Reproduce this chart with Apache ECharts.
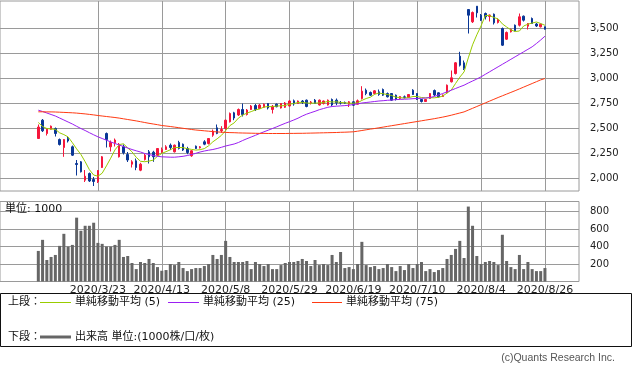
<!DOCTYPE html>
<html><head><meta charset="utf-8">
<script src="https://cdn.jsdelivr.net/npm/echarts@6/dist/echarts.min.js"></script>
<style>html,body{margin:0;padding:0;background:#fff;}#c{width:633px;height:374px;}</style>
</head><body><div id="c"></div>
<script>
const dates = [
'2020/3/2','2020/3/3','2020/3/4','2020/3/5','2020/3/6','2020/3/9','2020/3/10','2020/3/11','2020/3/12','2020/3/13','2020/3/16','2020/3/17','2020/3/18','2020/3/19','2020/3/23','2020/3/24','2020/3/25','2020/3/26','2020/3/27','2020/3/30','2020/3/31',
'2020/4/1','2020/4/2','2020/4/3','2020/4/6','2020/4/7','2020/4/8','2020/4/9','2020/4/10','2020/4/13','2020/4/14','2020/4/15','2020/4/16','2020/4/17','2020/4/20','2020/4/21','2020/4/22','2020/4/23','2020/4/24','2020/4/27','2020/4/28','2020/4/30',
'2020/5/1','2020/5/7','2020/5/8','2020/5/11','2020/5/12','2020/5/13','2020/5/14','2020/5/15','2020/5/18','2020/5/19','2020/5/20','2020/5/21','2020/5/22','2020/5/25','2020/5/26','2020/5/27','2020/5/28','2020/5/29',
'2020/6/1','2020/6/2','2020/6/3','2020/6/4','2020/6/5','2020/6/8','2020/6/9','2020/6/10','2020/6/11','2020/6/12','2020/6/15','2020/6/16','2020/6/17','2020/6/18','2020/6/19','2020/6/22','2020/6/23','2020/6/24','2020/6/25','2020/6/26','2020/6/29','2020/6/30',
'2020/7/1','2020/7/2','2020/7/3','2020/7/6','2020/7/7','2020/7/8','2020/7/9','2020/7/10','2020/7/13','2020/7/14','2020/7/15','2020/7/16','2020/7/17','2020/7/20','2020/7/21','2020/7/22','2020/7/27','2020/7/28','2020/7/29','2020/7/30','2020/7/31',
'2020/8/3','2020/8/4','2020/8/5','2020/8/6','2020/8/7','2020/8/11','2020/8/12','2020/8/13','2020/8/14','2020/8/17','2020/8/18','2020/8/19','2020/8/20','2020/8/21','2020/8/24','2020/8/25','2020/8/26'
];
const opens = [
2400,2583,2450,2493,2500,2390,2310,2400,2317,2150,
2167,1983,2050,1990,1967,2110,2450,2317,2357,2217,
2317,2240,2143,2177,2083,2190,2267,2263,2233,2263,
2290,2333,2267,2360,2343,2300,2227,2323,2307,2367,
2350,2433,2507,2477,2500,2567,2657,2635,2690,2640,
2690,2730,2700,2712,2750,2690,2743,2705,2712,2725,
2777,2750,2775,2783,2757,2783,2735,2750,2735,2790,
2783,2760,2760,2743,2767,2743,2800,2883,2860,2850,
2867,2890,2850,2850,2833,2800,2817,2810,2883,2850,
2790,2770,2800,2880,2857,2820,2857,2967,3050,3223,
3157,3690,3567,3723,3633,3650,3620,3643,3560,3500,
3393,3467,3533,3533,3623,3523,3600,3545,3517,3517];
const closes = [
2515,2477,2493,2523,2450,2340,2390,2375,2233,2140,
2067,2023,1975,1970,2080,2217,2390,2360,2385,2343,
2257,2185,2167,2110,2143,2233,2217,2217,2300,2290,
2317,2310,2333,2300,2285,2260,2277,2300,2317,2343,
2400,2473,2450,2490,2583,2650,2605,2690,2640,2685,
2725,2690,2735,2742,2705,2722,2718,2750,2755,2775,
2745,2775,2760,2720,2765,2750,2783,2775,2783,2735,
2757,2755,2753,2767,2733,2777,2873,2850,2833,2877,
2840,2833,2817,2783,2790,2820,2810,2840,2840,2790,
2770,2790,2850,2835,2817,2835,2933,3007,3157,3133,
3100,3633,3660,3657,3583,3617,3635,3557,3590,3333,
3460,3490,3477,3617,3583,3550,3550,3525,3543,3493];
const lows = [
2395,2465,2430,2490,2420,2330,2217,2360,2225,2030,
2060,1965,1965,1925,1955,2105,2310,2270,2320,2210,
2240,2165,2110,2083,2073,2180,2150,2167,2225,2250,
2285,2285,2260,2290,2275,2243,2217,2295,2300,2333,
2340,2417,2443,2457,2490,2560,2583,2625,2620,2630,
2685,2675,2695,2705,2690,2650,2712,2700,2705,2720,
2728,2745,2745,2712,2740,2745,2730,2740,2730,2725,
2733,2740,2745,2715,2725,2740,2790,2833,2825,2840,
2827,2825,2810,2775,2780,2795,2800,2805,2835,2785,
2760,2765,2795,2825,2810,2815,2850,2960,3040,3120,
3085,3450,3555,3610,3575,3590,3570,3540,3550,3325,
3385,3460,3470,3520,3570,3490,3545,3515,3510,3490];
const highs = [
2540,2595,2500,2530,2510,2400,2395,2415,2330,2185,
2175,2085,2060,2015,2085,2225,2460,2380,2400,2355,
2340,2265,2183,2200,2157,2245,2285,2277,2305,2310,
2333,2350,2340,2377,2350,2317,2283,2330,2325,2383,
2405,2490,2540,2523,2590,2660,2667,2700,2750,2695,
2735,2745,2745,2750,2755,2735,2750,2755,2765,2785,
2790,2780,2785,2790,2775,2795,2790,2780,2790,2800,
2800,2775,2770,2775,2775,2790,2923,2900,2870,2885,
2890,2900,2860,2855,2840,2825,2830,2845,2893,2855,
2795,2795,2855,2890,2862,2840,2940,3080,3165,3267,
3180,3690,3670,3723,3645,3660,3640,3650,3600,3510,
3470,3500,3540,3650,3630,3555,3610,3555,3550,3520];
const volumes = [
350,477,246,281,304,408,546,400,419,731,
581,638,638,673,442,431,400,400,419,477,
281,292,212,142,223,212,258,212,165,123,
131,200,188,223,154,119,142,154,154,177,
200,304,258,304,465,281,223,223,223,235,
142,223,200,177,200,142,142,188,212,223,
223,235,258,235,177,246,188,200,188,304,
223,338,154,165,142,200,454,188,165,177,
142,154,200,165,119,177,131,200,154,200,
223,119,142,108,131,154,258,304,373,465,
269,858,638,292,200,223,235,223,188,535,
235,165,142,304,142,223,142,119,119,154];
const ma5 = [
2560,2520,2500,2495,
2492,2457,2439,2416,2358,2296,2241,2168,2088,2035,
2023,2053,2126,2203,2286,2339,2347,2306,2267,2212,
2172,2168,2174,2184,2222,2251,2268,2287,2310,2310,
2309,2298,2291,2284,2288,2299,2327,2367,2397,2431,
2479,2529,2556,2604,2634,2654,2669,2686,2695,2715,
2719,2719,2724,2727,2730,2744,2749,2760,2762,2755,
2753,2754,2756,2759,2771,2765,2767,2761,2757,2753,
2753,2757,2781,2800,2813,2842,2855,2847,2840,2830,
2813,2809,2804,2809,2820,2820,2810,2806,2808,2807,
2812,2825,2854,2885,2950,3013,3066,3206,3337,3437,
3527,3630,3630,3610,3596,3546,3515,3486,3470,3475,
3525,3543,3555,3565,3550,3532];
const ma25 = [
2683,2670,2655,2640,2625,2605,2585,2565,2545,2522,
2500,2480,2458,2437,2417,2400,2383,2366,2350,2335,
2320,2305,2290,2277,2265,2250,2240,2230,2222,2217,
2215,2213,2213,2217,2222,2230,2240,2252,2265,2275,
2283,2290,2300,2312,2325,2335,2345,2360,2380,2398,
2415,2432,2450,2467,2483,2500,2517,2535,2552,2568,
2585,2603,2625,2643,2658,2672,2688,2700,2712,2720,
2723,2726,2729,2733,2740,2747,2755,2760,2765,2770,
2775,2778,2782,2785,2789,2791,2793,2795,2798,2800,
2802,2805,2810,2820,2835,2850,2867,2883,2900,2917,
2933,2955,2975,2995,3017,3042,3067,3092,3117,3142,
3167,3192,3217,3242,3267,3292,3317,3350,3385,3423];
const ma75 = [
2667,2667,2666,2666,2665,2663,2661,2659,2657,2654,
2650,2646,2641,2636,2630,2625,2620,2615,2610,2604,
2597,2590,2583,2576,2568,2560,2552,2545,2538,2530,
2525,2520,2514,2508,2502,2496,2490,2485,2481,2477,
2473,2469,2466,2463,2461,2459,2458,2456,2455,2454,
2453,2452,2451,2451,2450,2450,2450,2450,2450,2451,
2451,2452,2452,2453,2454,2455,2456,2457,2458,2459,
2460,2462,2463,2465,2467,2473,2480,2487,2494,2500,
2507,2514,2521,2528,2535,2542,2549,2556,2563,2570,
2577,2584,2591,2598,2606,2614,2623,2633,2644,2655,
2666,2684,2702,2720,2738,2756,2774,2792,2810,2827,
2844,2861,2878,2896,2914,2932,2950,2968,2986,3000];
const tickLabels = ['2020/3/23','2020/4/13','2020/5/8','2020/5/29','2020/6/19','2020/7/10','2020/8/4','2020/8/26'];
const priceTicks = [2000,2250,2500,2750,3000,3250,3500];
const volumeTicks = [200,400,600,800];

const PAD_L = 9, PAD_R = 8;
const RED = '#f5163b', BLUE = '#0a3796';
const cats = [];
for (let i = 0; i < PAD_L; i++) cats.push('L' + i);
dates.forEach(d => cats.push(d));
for (let i = 0; i < PAD_R; i++) cats.push('R' + i);
const pad = (arr, blank) => {
  const out = [];
  for (let i = 0; i < PAD_L; i++) out.push(blank);
  arr.forEach(v => out.push(v));
  for (let i = 0; i < PAD_R; i++) out.push(blank);
  return out;
};
const candle = pad(dates.map((d, i) => [opens[i], closes[i], lows[i], highs[i]]), ['-','-','-','-']);
const tickSet = new Set(tickLabels);
const showTick = (idx, val) => tickSet.has(val);
const comma = v => String(v).replace(/\B(?=(\d{3})+(?!\d))/g, ',');
const FONT = '"DejaVu Sans","Noto Sans CJK JP",sans-serif';
const GRID_C = '#9a9a9a';

const chart = echarts.init(document.getElementById('c'), null, {renderer: 'canvas'});
const catAxis = (gi, labels) => ({
  type: 'category', gridIndex: gi, data: cats, boundaryGap: false,
  axisLine: {show: false}, axisTick: {show: false},
  axisLabel: labels ? {show: true, interval: showTick, margin: 3, fontSize: 11, color: '#222', fontFamily: FONT, hideOverlap: false} : {show: false},
  splitLine: {show: true, interval: showTick, lineStyle: {color: GRID_C, width: 1}}
});
chart.setOption({
  animation: false,
  backgroundColor: '#fff',
  grid: [
    {left: 0, top: 1, width: 579, height: 190, show: true, borderColor: GRID_C, borderWidth: 1, outerBoundsMode: 'none'},
    {left: 0, top: 201.5, width: 579, height: 80, show: true, borderColor: GRID_C, borderWidth: 1, outerBoundsMode: 'none'}
  ],
  xAxis: [catAxis(0, false), catAxis(1, true)],
  yAxis: [
    {type: 'value', gridIndex: 0, position: 'right', min: 1875, max: 3775,
     axisLine: {show: false}, axisTick: {show: false, customValues: priceTicks},
     axisLabel: {customValues: priceTicks, formatter: comma, margin: 11, fontSize: 10, color: '#222', fontFamily: FONT},
     splitLine: {show: true, lineStyle: {color: GRID_C, width: 1}}},
    {type: 'value', gridIndex: 1, position: 'right', min: 0, max: 916,
     axisLine: {show: false}, axisTick: {show: false, customValues: volumeTicks},
     axisLabel: {customValues: volumeTicks, margin: 11, fontSize: 10, color: '#222', fontFamily: FONT},
     splitLine: {show: true, lineStyle: {color: GRID_C, width: 1}}}
  ],
  series: [
    {type: 'candlestick', xAxisIndex: 0, yAxisIndex: 0, data: candle, barWidth: 2,
     itemStyle: {color: RED, color0: BLUE, borderColor: RED, borderColor0: BLUE, borderWidth: 1}, z: 2},
    {type: 'line', name: 'MA5', xAxisIndex: 0, yAxisIndex: 0, data: pad(ma5, '-'), showSymbol: false,
     lineStyle: {color: '#99cc00', width: 1}, itemStyle: {color: '#99cc00'}, z: 3},
    {type: 'line', name: 'MA25', xAxisIndex: 0, yAxisIndex: 0, data: pad(ma25, '-'), showSymbol: false,
     lineStyle: {color: '#9b1ff2', width: 1}, itemStyle: {color: '#9b1ff2'}, z: 3},
    {type: 'line', name: 'MA75', xAxisIndex: 0, yAxisIndex: 0, data: pad(ma75, '-'), showSymbol: false,
     lineStyle: {color: '#ff3a12', width: 1}, itemStyle: {color: '#ff3a12'}, z: 3},
    {type: 'bar', xAxisIndex: 1, yAxisIndex: 1, data: pad(volumes, '-'), barWidth: 3,
     itemStyle: {color: '#666666'}}
  ],
  graphic: [
    {type: 'text', x: 5, y: 209, z: 10, style: {text: '単位: 1000', font: '11px ' + FONT, fill: '#111', verticalAlign: 'middle'}},
    {type: 'rect', shape: {x: 0.5, y: 293.5, width: 631, height: 53}, style: {fill: 'none', stroke: '#111', lineWidth: 1}},
    {type: 'text', x: 8, y: 302, style: {text: '上段：', font: '11px ' + FONT, fill: '#111', verticalAlign: 'middle'}},
    {type: 'line', shape: {x1: 40, y1: 302.5, x2: 71, y2: 302.5}, style: {stroke: '#99cc00', lineWidth: 1}},
    {type: 'text', x: 75, y: 302, style: {text: '単純移動平均 (5)', font: '11px ' + FONT, fill: '#111', verticalAlign: 'middle'}},
    {type: 'line', shape: {x1: 168, y1: 302.5, x2: 199, y2: 302.5}, style: {stroke: '#9b1ff2', lineWidth: 1}},
    {type: 'text', x: 203, y: 302, style: {text: '単純移動平均 (25)', font: '11px ' + FONT, fill: '#111', verticalAlign: 'middle'}},
    {type: 'line', shape: {x1: 312, y1: 302.5, x2: 342, y2: 302.5}, style: {stroke: '#ff3a12', lineWidth: 1}},
    {type: 'text', x: 346, y: 302, style: {text: '単純移動平均 (75)', font: '11px ' + FONT, fill: '#111', verticalAlign: 'middle'}},
    {type: 'text', x: 8, y: 337, style: {text: '下段：', font: '11px ' + FONT, fill: '#111', verticalAlign: 'middle'}},
    {type: 'line', shape: {x1: 40, y1: 337, x2: 71, y2: 337}, style: {stroke: '#666666', lineWidth: 3}},
    {type: 'text', x: 75, y: 337, style: {text: '出来高 単位:(1000株/口/枚)', font: '11px ' + FONT, fill: '#111', verticalAlign: 'middle'}},
    {type: 'text', x: 615, y: 358, style: {text: '(c)Quants Research Inc.', font: '10.5px "Liberation Sans",sans-serif', fill: '#555', align: 'right', verticalAlign: 'middle'}}
  ]
});
</script></body></html>
